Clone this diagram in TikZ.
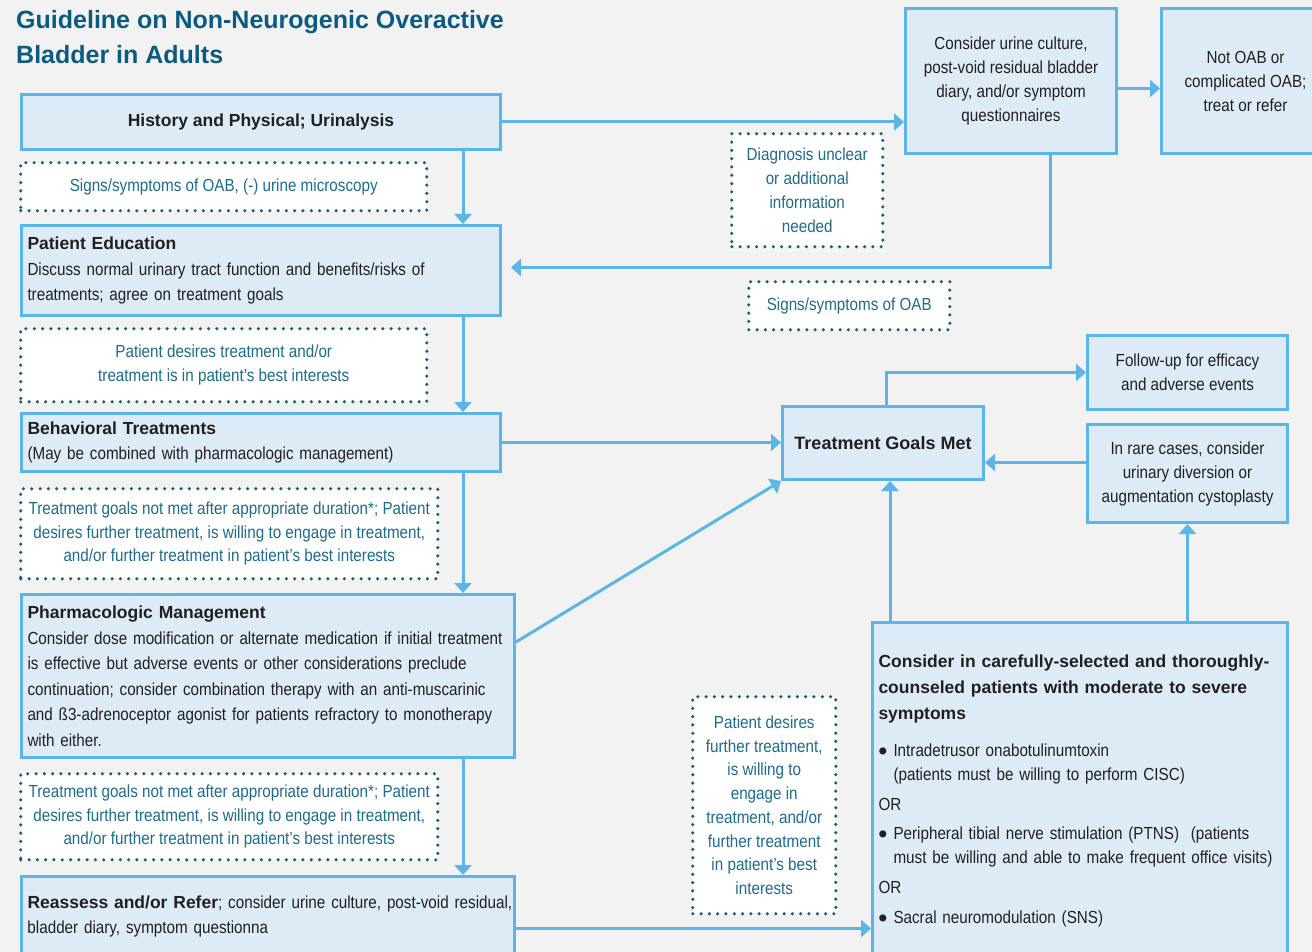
\documentclass[tikz,border=0pt]{standalone}
\usepackage{fontspec}
\setmainfont{Liberation Sans}[FakeStretch=0.87]
\newfontfamily\hdfont{Liberation Sans}
\usetikzlibrary{arrows.meta,calc}
\definecolor{bg}{HTML}{F2F2F2}
\definecolor{boxfill}{HTML}{DDEBF7}
\definecolor{boxline}{HTML}{5BB5E6}
\definecolor{dotline}{HTML}{1B5E7E}
\definecolor{dottext}{HTML}{1E6C8C}
\definecolor{titlecol}{HTML}{0B5A80}
\definecolor{bodytext}{HTML}{231F20}
\newcommand{\hb}[1]{{\hdfont\bfseries #1}}
\newcommand{\bul}{\makebox[15pt][l]{\raisebox{-3pt}{\scalebox{1.4}{\hdfont\bfseries •}}}}
\tikzset{
 box/.style={draw=boxline, line width=3pt, fill=boxfill, text=bodytext, inner xsep=6pt, inner ysep=0pt, anchor=north west, font=\fontsize{17.5}{25.5}\selectfont},
 lbox/.style={box, align=left},
 cbox/.style={box, align=center, font=\fontsize{17.5}{24}\selectfont},
 dotbox/.style={draw=dotline, line width=3.5pt, dash pattern=on 0pt off 8.3pt, line cap=round, fill=white, text=dottext, align=center, anchor=north west, inner sep=0pt, font=\fontsize{17.5}{23.7}\selectfont},
 arr/.style={draw=boxline, line width=3pt, -{Triangle[width=17pt,length=10pt]}},
}
\begin{document}
\begin{tikzpicture}[x=1pt,y=-1pt]
\useasboundingbox (0,0) rectangle (1312,952);
\clip (0,0) rectangle (1312,952);
\fill[bg] (0,0) rectangle (1312,952);

\node[anchor=north west, inner sep=0pt, text=titlecol, align=left, font=\hdfont\bfseries\fontsize{25}{35}\selectfont] (title) at (16,10) {Guideline on Non-Neurogenic Overactive\\Bladder in Adults};

% left column
\node[cbox, minimum width=479pt, minimum height=55pt] (hp) at (20,93) {\hb{History and Physical; Urinalysis}};
\node[dotbox, minimum width=406pt, minimum height=48pt] (d1) at (19,161) {Signs/symptoms of OAB, (-) urine microscopy};
\node[lbox, text width=467pt, minimum height=90pt] (pe) at (20,224) {\hb{Patient Education}\\Discuss normal urinary tract function and benefits/risks of\\treatments; agree on treatment goals};
\node[dotbox, minimum width=406pt, minimum height=73pt] (d2) at (19,327) {Patient desires treatment and/or\\treatment is in patient’s best interests};
\node[lbox, text width=467pt, minimum height=58pt] (beh) at (20,412) {\hb{Behavioral Treatments}\\(May be combined with pharmacologic management)};
\node[dotbox, minimum width=417pt, minimum height=90pt] (d3) at (19,487) {Treatment goals not met after appropriate duration*; Patient\\desires further treatment, is willing to engage in treatment,\\and/or further treatment in patient’s best interests};
\node[lbox, text width=481pt, minimum height=163pt] (ph) at (20,593) {\hb{Pharmacologic Management}\\Consider dose modification or alternate medication if initial treatment\\is effective but adverse events or other considerations preclude\\continuation; consider combination therapy with an anti-muscarinic\\and ß3-adrenoceptor agonist for patients refractory to monotherapy\\with either.};
\node[dotbox, minimum width=417pt, minimum height=86pt] (d4) at (19,772) {Treatment goals not met after appropriate duration*; Patient\\desires further treatment, is willing to engage in treatment,\\and/or further treatment in patient’s best interests};
\node[lbox, text width=481pt, minimum height=80pt] (re) at (20,875) {\mbox{\hb{Reassess and/or Refer}; consider urine culture, post-void residual,}\\bladder diary, symptom questionna};

% top right
\node[cbox, minimum width=211pt, minimum height=145pt] (cons) at (904,7) {Consider urine culture,\\post-void residual bladder\\diary, and/or symptom\\questionnaires};
\node[cbox, minimum width=168pt, minimum height=145pt] (na) at (1160,7) {Not OAB or\\complicated OAB;\\treat or refer};
\node[dotbox, minimum width=151pt, minimum height=113pt] (dx) at (730,132) {Diagnosis unclear\\or additional\\information\\needed};
\node[dotbox, minimum width=201pt, minimum height=48pt] (d5) at (747,280) {Signs/symptoms of OAB};

% middle right
\node[cbox, minimum width=201pt, minimum height=73pt] (tgm) at (781,405) {\hb{\fontsize{18}{24}\selectfont Treatment Goals Met}};
\node[cbox, minimum width=200pt, minimum height=74pt] (fu) at (1086,334) {Follow-up for efficacy\\and adverse events};
\node[cbox, minimum width=200pt, minimum height=98pt] (rare) at (1086,423) {In rare cases, consider\\urinary diversion or\\augmentation cystoplasty};
\node[dotbox, minimum width=143pt, minimum height=217pt] (d6) at (691,695) {Patient desires\\further treatment,\\is willing to\\engage in\\treatment, and/or\\further treatment\\in patient’s best\\interests};
\node[lbox, text width=403pt, minimum height=336pt, font=\fontsize{17.5}{24}\selectfont] (big) at (871,621) {\hb{Consider in carefully-selected and thoroughly-}\\[2pt]\hb{counseled patients with moderate to severe}\\[2pt]\hb{symptoms}\\[13pt]\bul Intradetrusor onabotulinumtoxin\\\hspace*{15pt}(patients must be willing to perform CISC)\\[6pt]OR\\[5pt]\bul Peripheral tibial nerve stimulation (PTNS)\ \ (patients\\\hspace*{15pt}must be willing and able to make frequent office visits)\\[6pt]OR\\[6pt]\bul Sacral neuromodulation (SNS)};

% connectors
\coordinate (sp) at (463,0);
\draw[arr] (hp.south -| sp) -- (pe.north -| sp);
\draw[arr] (pe.south -| sp) -- (beh.north -| sp);
\draw[arr] (beh.south -| sp) -- (ph.north -| sp);
\draw[arr] (ph.south -| sp) -- (re.north -| sp);
\draw[arr] (hp.east) -- (hp.east -| cons.west);
\draw[arr] ([yshift=-7.5pt]cons.east) -- ([yshift=-7.5pt]na.west);
\coordinate (cx) at (1050,0);
\draw[arr] (cons.south -| cx) |- ([xshift=9pt,yshift=3pt]pe.east);
\draw[arr] (beh.east) -- (beh.east -| tgm.west);
\draw[arr] ([yshift=34pt]ph.east) -- (tgm.south west);
\coordinate (tx) at (886,0);
\draw[arr] (tgm.north -| tx) |- (fu.west);
\coordinate (bx) at (890,0);
\draw[arr] (big.north -| bx) -- (tgm.south -| bx);
\draw[arr] (big.north -| rare.south) -- (rare.south);
\coordinate (r1) at ($(rare.west)+(0,-11)$);
\draw[arr] (r1) -- (r1 -| tgm.east);
\coordinate (r2) at ($(re.east)+(0,12)$);
\draw[arr] (r2) -- (r2 -| big.west);
\end{tikzpicture}
\end{document}
